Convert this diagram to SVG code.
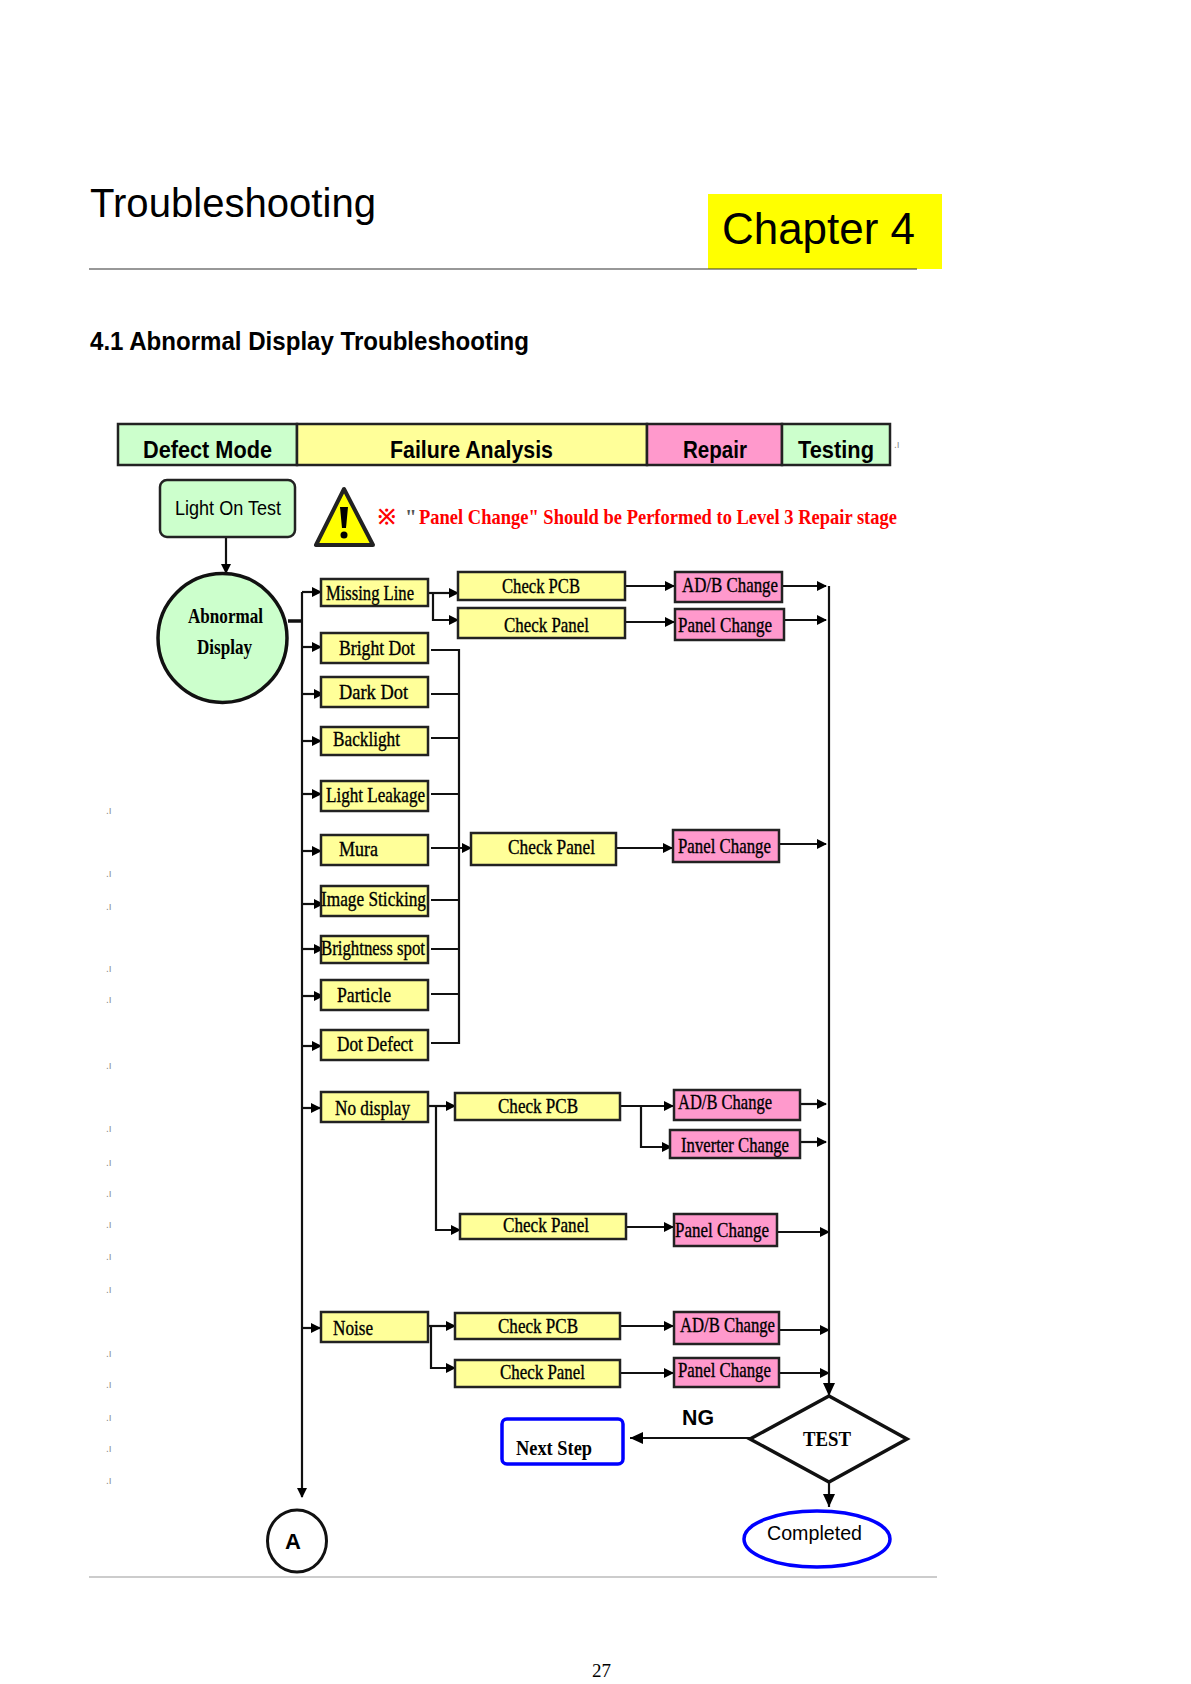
<svg xmlns="http://www.w3.org/2000/svg" width="1191" height="1684" viewBox="0 0 1191 1684">
<style>
text{font-family:"Liberation Sans",Arial,sans-serif;fill:#000}
.box{stroke:#222;stroke-width:2.5}
.y{fill:#ffff99}.p{fill:#ff99cc}.g{fill:#ccffcc}
.n{font-family:"Liberation Serif","Times New Roman",serif;font-size:21px;stroke:#000;stroke-width:.35}
.b{font-family:"Liberation Serif","Times New Roman",serif;font-size:21px;font-weight:bold}
.h{font-size:24px;font-weight:bold}
.m{font-size:10px;fill:#888}
#connectors path{fill:none;stroke:#111;stroke-width:2.2}
</style>
<defs>
<marker id="a" markerUnits="userSpaceOnUse" markerWidth="12" markerHeight="12" refX="10" refY="6" orient="auto"><path d="M1 1L11 6L1 11Z" fill="#000"/></marker>
<marker id="c" markerUnits="userSpaceOnUse" markerWidth="16" markerHeight="16" refX="14" refY="8" orient="auto"><path d="M1 2L14 8L1 14Z" fill="#000"/></marker>
</defs>
<rect width="1191" height="1684" fill="#fff"/>
<g id="page-header">
<text x="90" y="217" font-size="40" textLength="286" lengthAdjust="spacingAndGlyphs">Troubleshooting</text>
<rect x="708" y="194" width="234" height="75" fill="#ffff00"/>
<text x="722" y="244" font-size="44" textLength="193" lengthAdjust="spacingAndGlyphs">Chapter 4</text>
<path d="M89 269H917" stroke="#333" stroke-width="1.2"/>
<text x="90" y="350" font-size="25" font-weight="bold" textLength="439" lengthAdjust="spacingAndGlyphs">4.1 Abnormal Display Troubleshooting</text>
</g>
<g id="table-header">
<rect class="box g" x="118" y="424" width="179" height="41"/>
<rect class="box y" x="297" y="424" width="350" height="41"/>
<rect class="box p" x="647" y="424" width="135" height="41"/>
<rect class="box g" x="782" y="424" width="108" height="41"/>
<text class="h" x="143" y="458" textLength="129" lengthAdjust="spacingAndGlyphs">Defect Mode</text>
<text class="h" x="390" y="458" textLength="163" lengthAdjust="spacingAndGlyphs">Failure Analysis</text>
<text class="h" x="683" y="458" textLength="64" lengthAdjust="spacingAndGlyphs">Repair</text>
<text class="h" x="798" y="458" textLength="76" lengthAdjust="spacingAndGlyphs">Testing</text>
</g>
<g id="connectors">
<path d="M226 537V573" marker-end="url(#a)"/>
<path d="M288 621H302" style="stroke-width:3.5"/>
<path d="M302 592V1497" marker-end="url(#a)"/>
<path d="M302 592H321" marker-end="url(#a)"/>
<path d="M302 647H321" marker-end="url(#a)"/>
<path d="M302 694H323" marker-end="url(#a)"/>
<path d="M302 741H321" marker-end="url(#a)"/>
<path d="M302 794H321" marker-end="url(#a)"/>
<path d="M302 851H321" marker-end="url(#a)"/>
<path d="M302 904H323" marker-end="url(#a)"/>
<path d="M302 949H323" marker-end="url(#a)"/>
<path d="M302 996H323" marker-end="url(#a)"/>
<path d="M302 1046H321" marker-end="url(#a)"/>
<path d="M302 1108H320" marker-end="url(#a)"/>
<path d="M302 1328H320" marker-end="url(#a)"/>
<path d="M428 593H458" marker-end="url(#a)"/>
<path d="M433 593V620H458" marker-end="url(#a)"/>
<path d="M626 586H674" marker-end="url(#a)"/>
<path d="M626 622H674" marker-end="url(#a)"/>
<path d="M782 586H826" marker-end="url(#a)"/>
<path d="M784 620H826" marker-end="url(#a)"/>
<path d="M431 650H459V1043H431"/>
<path d="M431 694H459M431 738H459M431 794H459M431 900H459M431 949H459M431 994H459"/>
<path d="M431 848H471" marker-end="url(#a)"/>
<path d="M617 848H672" marker-end="url(#a)"/>
<path d="M780 844H826" marker-end="url(#a)"/>
<path d="M429 1106H455" marker-end="url(#a)"/>
<path d="M436 1106V1230H460" marker-end="url(#a)"/>
<path d="M620 1106H673" marker-end="url(#a)"/>
<path d="M641 1106V1147H671" marker-end="url(#a)"/>
<path d="M800 1104H826" marker-end="url(#a)"/>
<path d="M800 1142H826" marker-end="url(#a)"/>
<path d="M626 1227H673" marker-end="url(#a)"/>
<path d="M777 1232H829" marker-end="url(#a)"/>
<path d="M429 1326H455" marker-end="url(#a)"/>
<path d="M431 1326V1368H455" marker-end="url(#a)"/>
<path d="M620 1326H673" marker-end="url(#a)"/>
<path d="M620 1373H673" marker-end="url(#a)"/>
<path d="M779 1330H829" marker-end="url(#a)"/>
<path d="M779 1373H829" marker-end="url(#a)"/>
<path d="M829 586V1396" marker-end="url(#c)"/>
<path d="M750 1438H630" marker-end="url(#c)"/>
<path d="M829 1483V1507" marker-end="url(#c)"/>
</g>
<g id="light-on-test"><rect class="box g" x="160" y="480" width="135" height="57" rx="7"/><text x="175" y="515" font-size="20" textLength="106" lengthAdjust="spacingAndGlyphs">Light On Test</text></g>
<g id="warning"><path d="M344 489L316 545H373Z" fill="#ffff00" stroke="#222" stroke-width="4" stroke-linejoin="round"/><path d="M340 507H348L346 528H342Z" fill="#000"/><circle cx="344" cy="535" r="3.5" fill="#000"/></g>
<g id="panel-note"><text class="b" x="378" y="524" style="fill:#ff0000" font-size="20">※</text><text class="b" x="405" y="524" style="fill:#555" font-size="16">"</text><text class="b" x="419" y="524" style="fill:#ff0000" textLength="478" lengthAdjust="spacingAndGlyphs">Panel Change" Should be Performed to Level 3 Repair stage</text></g>
<g id="abnormal-display"><circle class="g" cx="222.500" cy="638" r="64.500" stroke="#111" stroke-width="3.5"/><text class="b" x="188" y="623" textLength="75" lengthAdjust="spacingAndGlyphs">Abnormal</text><text class="b" x="197" y="654" textLength="55" lengthAdjust="spacingAndGlyphs">Display</text></g>
<g id="missing-line"><rect class="box y" x="321" y="579" width="107" height="27"/><text class="n" x="326" y="600" textLength="88" lengthAdjust="spacingAndGlyphs">Missing Line</text></g>
<g id="bright-dot"><rect class="box y" x="321" y="633" width="107" height="30"/><text class="n" x="339" y="655" textLength="76" lengthAdjust="spacingAndGlyphs">Bright Dot</text></g>
<g id="dark-dot"><rect class="box y" x="321" y="677" width="107" height="30"/><text class="n" x="339" y="699" textLength="69" lengthAdjust="spacingAndGlyphs">Dark Dot</text></g>
<g id="backlight"><rect class="box y" x="321" y="727" width="107" height="28"/><text class="n" x="333" y="746" textLength="67" lengthAdjust="spacingAndGlyphs">Backlight</text></g>
<g id="light-leakage"><rect class="box y" x="321" y="781" width="107" height="30"/><text class="n" x="326" y="802" textLength="99" lengthAdjust="spacingAndGlyphs">Light Leakage</text></g>
<g id="mura"><rect class="box y" x="321" y="835" width="107" height="30"/><text class="n" x="339" y="856" textLength="39" lengthAdjust="spacingAndGlyphs">Mura</text></g>
<g id="image-sticking"><rect class="box y" x="321" y="886" width="107" height="30"/><text class="n" x="321" y="906" textLength="105" lengthAdjust="spacingAndGlyphs">Image Sticking</text></g>
<g id="brightness-spot"><rect class="box y" x="321" y="936" width="107" height="27"/><text class="n" x="321" y="955" textLength="104" lengthAdjust="spacingAndGlyphs">Brightness spot</text></g>
<g id="particle"><rect class="box y" x="321" y="980" width="107" height="30"/><text class="n" x="337" y="1002" textLength="54" lengthAdjust="spacingAndGlyphs">Particle</text></g>
<g id="dot-defect"><rect class="box y" x="321" y="1030" width="107" height="30"/><text class="n" x="337" y="1051" textLength="76" lengthAdjust="spacingAndGlyphs">Dot Defect</text></g>
<g id="no-display"><rect class="box y" x="321" y="1092" width="107" height="30"/><text class="n" x="335" y="1115" textLength="75" lengthAdjust="spacingAndGlyphs">No display</text></g>
<g id="noise"><rect class="box y" x="321" y="1312" width="107" height="30"/><text class="n" x="333" y="1335" textLength="40" lengthAdjust="spacingAndGlyphs">Noise</text></g>
<g id="check-pcb-1"><rect class="box y" x="458" y="572" width="167" height="28"/><text class="n" x="502" y="593" textLength="78" lengthAdjust="spacingAndGlyphs">Check PCB</text></g>
<g id="check-panel-1"><rect class="box y" x="458" y="608" width="167" height="30"/><text class="n" x="504" y="632" textLength="85" lengthAdjust="spacingAndGlyphs">Check Panel</text></g>
<g id="check-panel-2"><rect class="box y" x="471" y="833" width="145" height="32"/><text class="n" x="508" y="854" textLength="87" lengthAdjust="spacingAndGlyphs">Check Panel</text></g>
<g id="check-pcb-3"><rect class="box y" x="455" y="1093" width="165" height="27"/><text class="n" x="498" y="1113" textLength="80" lengthAdjust="spacingAndGlyphs">Check PCB</text></g>
<g id="check-panel-3"><rect class="box y" x="460" y="1214" width="166" height="25"/><text class="n" x="503" y="1232" textLength="86" lengthAdjust="spacingAndGlyphs">Check Panel</text></g>
<g id="check-pcb-4"><rect class="box y" x="455" y="1313" width="165" height="26"/><text class="n" x="498" y="1333" textLength="80" lengthAdjust="spacingAndGlyphs">Check PCB</text></g>
<g id="check-panel-4"><rect class="box y" x="455" y="1360" width="165" height="27"/><text class="n" x="500" y="1379" textLength="85" lengthAdjust="spacingAndGlyphs">Check Panel</text></g>
<g id="adb-change-1"><rect class="box p" x="675" y="572" width="107" height="30"/><text class="n" x="682" y="592" textLength="96" lengthAdjust="spacingAndGlyphs">AD/B Change</text></g>
<g id="panel-change-1"><rect class="box p" x="675" y="609" width="109" height="31"/><text class="n" x="678" y="632" textLength="94" lengthAdjust="spacingAndGlyphs">Panel Change</text></g>
<g id="panel-change-2"><rect class="box p" x="673" y="830" width="106" height="32"/><text class="n" x="678" y="853" textLength="93" lengthAdjust="spacingAndGlyphs">Panel Change</text></g>
<g id="adb-change-3"><rect class="box p" x="674" y="1090" width="126" height="30"/><text class="n" x="678" y="1109" textLength="94" lengthAdjust="spacingAndGlyphs">AD/B Change</text></g>
<g id="inverter-change"><rect class="box p" x="670" y="1130" width="130" height="28"/><text class="n" x="681" y="1152" textLength="108" lengthAdjust="spacingAndGlyphs">Inverter Change</text></g>
<g id="panel-change-3"><rect class="box p" x="674" y="1214" width="103" height="32"/><text class="n" x="675" y="1237" textLength="94" lengthAdjust="spacingAndGlyphs">Panel Change</text></g>
<g id="adb-change-4"><rect class="box p" x="674" y="1312" width="105" height="32"/><text class="n" x="680" y="1332" textLength="95" lengthAdjust="spacingAndGlyphs">AD/B Change</text></g>
<g id="panel-change-4"><rect class="box p" x="674" y="1358" width="105" height="29"/><text class="n" x="678" y="1377" textLength="93" lengthAdjust="spacingAndGlyphs">Panel Change</text></g>
<g id="test"><path d="M829 1396L907 1439L829 1482L750 1439Z" fill="#fff" stroke="#111" stroke-width="3.5"/><text class="b" x="803" y="1446" textLength="48" lengthAdjust="spacingAndGlyphs">TEST</text></g>
<g id="next-step"><rect x="502" y="1419" width="121" height="45" rx="5" fill="#fff" stroke="#0000ff" stroke-width="3.5"/><text class="b" x="516" y="1455" textLength="76" lengthAdjust="spacingAndGlyphs">Next Step</text></g>
<g id="ng-label"><text x="682" y="1425" font-size="22" font-weight="bold" textLength="32" lengthAdjust="spacingAndGlyphs">NG</text></g>
<g id="a-node"><ellipse cx="297" cy="1541" rx="29.500" ry="31" fill="#fff" stroke="#111" stroke-width="3"/><text x="285" y="1549" font-size="22" font-weight="bold">A</text></g>
<g id="completed"><ellipse cx="817" cy="1539" rx="73" ry="28" fill="#fff" stroke="#0000ff" stroke-width="3.500"/><text x="767" y="1540" font-size="21" textLength="95" lengthAdjust="spacingAndGlyphs">Completed</text></g>
<path id="bottom-rule" d="M89 1577H937" stroke="#ccc" stroke-width="2"/>
<text x="592" y="1677" font-size="19" style="font-family:'Liberation Serif',serif">27</text>
<g id="margin-marks">
<text class="m" x="106" y="814">.ı</text><text class="m" x="106" y="877">.ı</text><text class="m" x="106" y="910">.ı</text><text class="m" x="106" y="972">.ı</text><text class="m" x="106" y="1003">.ı</text><text class="m" x="106" y="1069">.ı</text><text class="m" x="106" y="1132">.ı</text><text class="m" x="106" y="1166">.ı</text><text class="m" x="106" y="1197">.ı</text><text class="m" x="106" y="1228">.ı</text><text class="m" x="106" y="1260">.ı</text><text class="m" x="106" y="1293">.ı</text><text class="m" x="106" y="1357">.ı</text><text class="m" x="106" y="1388">.ı</text><text class="m" x="106" y="1421">.ı</text><text class="m" x="106" y="1452">.ı</text><text class="m" x="106" y="1484">.ı</text><text class="m" x="894" y="448">.ı</text>
</g>
</svg>
